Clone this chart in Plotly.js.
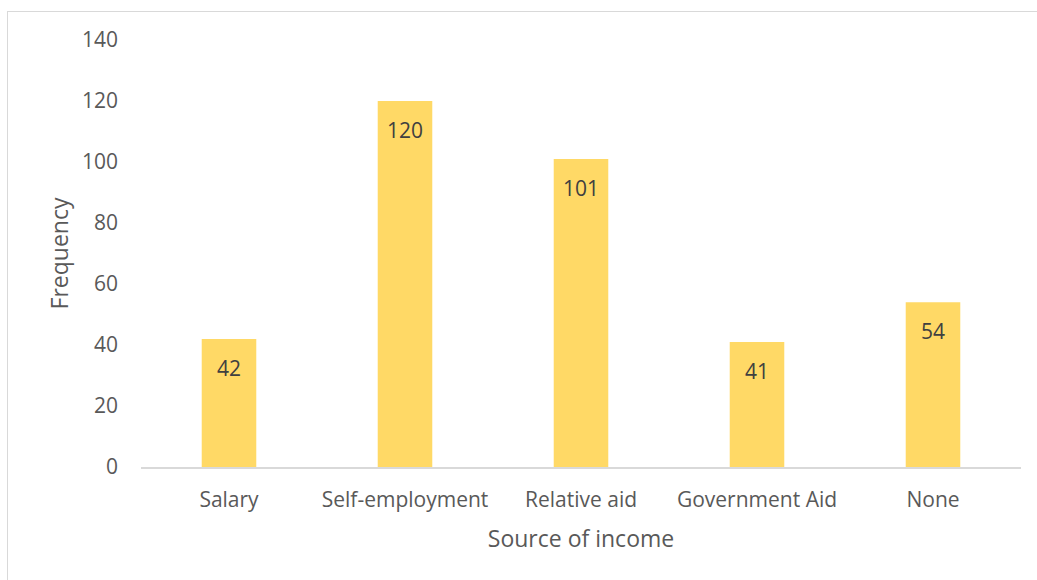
<!DOCTYPE html>
<html>
<head>
<meta charset="utf-8">
<script src="https://cdn.plot.ly/plotly-3.0.1.min.js"></script>
<style>
  html, body { margin: 0; padding: 0; background: #fff; overflow: hidden; }
  #frame { position: absolute; left: 7px; top: 11px; width: 1100px; height: 700px; border: 1px solid #d9d9d9; box-sizing: border-box; }
  #chart { position: absolute; left: 0; top: 0; width: 1037px; height: 580px; }
</style>
</head>
<body>
<div id="frame"></div>
<div id="chart"></div>
<script>
const categories = ["Salary", "Self-employment", "Relative aid", "Government Aid", "None"];
const frequency = [42, 120, 101, 41, 54];
const yTicks = [0, 20, 40, 60, 80, 100, 120, 140];

const font = "'Open Sans', 'Noto Sans', sans-serif";

const trace = {
  type: "bar",
  x: categories,
  y: frequency,
  width: 0.31,
  marker: { color: "#FFD966" },
  hoverinfo: "x+y"
};

const annotations = categories.map((c, i) => ({
  x: c, y: frequency[i], xref: "x", yref: "y",
  text: String(frequency[i]), showarrow: false,
  yanchor: "top", yshift: -13,
  font: { family: font, size: 21, color: "#404040" }
}));

const layout = {
  width: 1037, height: 580,
  margin: { l: 141, r: 16, t: 40, b: 113 },
  paper_bgcolor: "rgba(0,0,0,0)",
  plot_bgcolor: "rgba(0,0,0,0)",
  showlegend: false,
  font: { family: font, size: 21, color: "#595959" },
  xaxis: {
    type: "category",
    showline: true, linecolor: "#d9d9d9", linewidth: 1.5,
    showgrid: false, zeroline: false, ticks: "",
    ticklabelstandoff: 13,
    tickfont: { family: font, size: 21, color: "#595959" },
    title: { text: "Source of income", font: { family: font, size: 23, color: "#595959" }, standoff: 19 }
  },
  yaxis: {
    range: [0, 140],
    tickvals: yTicks, ticktext: yTicks.map(String),
    showline: false, showgrid: false, zeroline: false, ticks: "",
    ticklabelstandoff: 22,
    tickfont: { family: font, size: 21, color: "#595959" },
    title: { text: "Frequency", font: { family: font, size: 23, color: "#595959" }, standoff: 6 }
  },
  annotations: annotations
};

Plotly.newPlot("chart", [trace], layout, { displayModeBar: false, staticPlot: true });
</script>
</body>
</html>
